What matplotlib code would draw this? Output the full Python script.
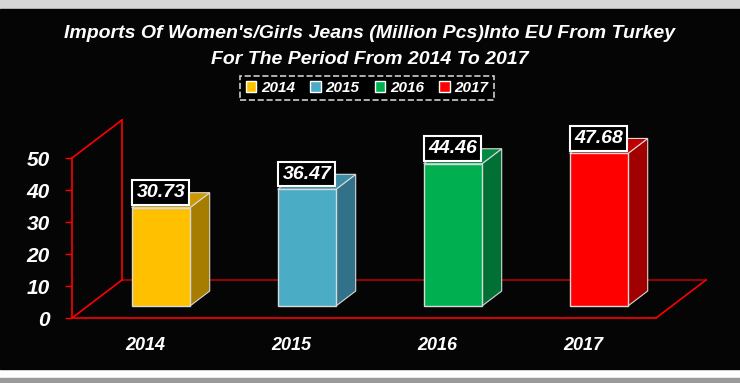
import matplotlib.pyplot as plt
from matplotlib.patches import Polygon, Rectangle, Patch

# data
years = ['2014', '2015', '2016', '2017']
imports = [30.73, 36.47, 44.46, 47.68]
front_colors = ['#FFC000', '#4BACC6', '#00B050', '#FF0000']
side_colors = ['#A67D00', '#31718A', '#007034', '#A00000']
top_colors = ['#CC9A00', '#3C8CA3', '#008A40', '#C00000']
yticks = [0, 10, 20, 30, 40, 50]

W, H = 740, 383
fig = plt.figure(figsize=(W / 100, H / 100), dpi=100, facecolor='white')

# frame: grey strip top, black panel, grey bottom
fig.patches.append(Rectangle((0, 1 - 8 / H), 1, 8 / H, transform=fig.transFigure,
                             color='#D6D6D6', zorder=-10))
fig.patches.append(Rectangle((0, 14 / H), 1, 360 / H, transform=fig.transFigure,
                             color='#050505', zorder=-10))
fig.patches.append(Rectangle((0, 0), 1, 5 / H, transform=fig.transFigure,
                             color='#9A9A9A', zorder=-10))

font = ['Liberation Sans Narrow', 'Liberation Sans', 'DejaVu Sans']
tkw = dict(color='white', fontweight='bold', fontstyle='italic', family=font)

# axes placed in pixels: value 0 at y=318 px, x slots 72..656 px
x0_px, y0_px = 72, 318
px_per_cat, px_per_val = 146, 3.2
ax_l, ax_r, ax_b, ax_t = 20, 730, 30, 300   # px from left / bottom
ax = fig.add_axes([ax_l / W, ax_b / H, (ax_r - ax_l) / W, (ax_t - ax_b) / H])
ax.set_facecolor('none')
ax.set_xlim((ax_l - x0_px) / px_per_cat, (ax_r - x0_px) / px_per_cat)
ax.set_ylim((ax_b - (H - y0_px)) / px_per_val, (ax_t - (H - y0_px)) / px_per_val)

# depth of the 3D box in data units
DX, DY = 50 / px_per_cat, 38 / px_per_val
n = len(years)
ymax = 50
red = '#FF0000'
dark_red = '#B00000'

# floor and wall
ax.plot([DX, n + DX], [DY, DY], color=dark_red, lw=1.2, zorder=1)
ax.plot([0, DX], [0, DY], color=red, lw=1.2, zorder=1)
ax.plot([n, n + DX], [0, DY], color=red, lw=1.2, zorder=1)
ax.plot([DX, DX], [DY, ymax + DY], color=red, lw=1.2, zorder=1)
ax.plot([0, DX], [ymax, ymax + DY], color=red, lw=1.2, zorder=1)

# bars
bw = 0.4
f0, f1 = 0.316, 0.71
for i, (v, fc, sc, tc) in enumerate(zip(imports, front_colors, side_colors, top_colors)):
    xl = i + 0.5 - bw / 2 + f0 * DX
    xr = xl + bw
    yb = f0 * DY
    ddx, ddy = (f1 - f0) * DX, (f1 - f0) * DY
    ec = '#D9D9D9'
    side = Polygon([(xr, yb), (xr + ddx, yb + ddy), (xr + ddx, yb + ddy + v), (xr, yb + v)],
                   closed=True, fc=sc, ec=ec, lw=0.8, zorder=3)
    top = Polygon([(xl, yb + v), (xr, yb + v), (xr + ddx, yb + ddy + v), (xl + ddx, yb + ddy + v)],
                  closed=True, fc=tc, ec=ec, lw=0.8, zorder=3)
    front = Rectangle((xl, yb), bw, v, fc=fc, ec=ec, lw=1.0, zorder=4)
    for p in (side, top, front):
        ax.add_patch(p)
    ax.annotate(f'{v:.2f}', xy=(xl + bw / 2, yb + v), xytext=(0, 11),
                textcoords='offset points', ha='center', va='center', fontsize=14,
                zorder=6, bbox=dict(boxstyle='square,pad=0.2', fc='black', ec='white', lw=1.5),
                **tkw)

# axes spines as front floor / wall
for s in ['top', 'right']:
    ax.spines[s].set_visible(False)
ax.spines['left'].set_position(('data', 0))
ax.spines['left'].set_bounds(0, ymax)
ax.spines['left'].set_color(red)
ax.spines['bottom'].set_position(('data', 0))
ax.spines['bottom'].set_bounds(0, n)
ax.spines['bottom'].set_color(red)
ax.spines['left'].set_linewidth(1.2)
ax.spines['bottom'].set_linewidth(1.2)

ax.set_yticks(yticks)
ax.set_yticklabels([str(t) for t in yticks])
ax.tick_params(axis='y', colors=red, length=5, width=1, pad=11)
ax.set_xticks([i + 0.5 for i in range(n)])
ax.set_xticklabels(years)
ax.tick_params(axis='x', length=0, pad=14)
for lab in ax.get_yticklabels() + ax.get_xticklabels():
    lab.set_color('white')
    lab.set_fontweight('bold')
    lab.set_fontstyle('italic')
    lab.set_family(font)
for lab in ax.get_yticklabels():
    lab.set_fontsize(15)
for lab in ax.get_xticklabels():
    lab.set_fontsize(13)

# title
fig.text(0.5, 1 - 33 / H, "Imports Of Women's/Girls Jeans (Million Pcs)Into EU From Turkey",
         ha='center', va='center', fontsize=14, **tkw)
fig.text(0.5, 1 - 60 / H, "For The Period From 2014 To 2017",
         ha='center', va='center', fontsize=14, **tkw)

# legend
handles = [Patch(fc=c, ec='white', lw=1) for c in front_colors]
leg = fig.legend(handles, years, loc='center', bbox_to_anchor=(367 / W, 1 - 88 / H),
                 ncol=4, frameon=True, handlelength=0.7, handleheight=0.7,
                 handletextpad=0.3, columnspacing=1.0, borderpad=0.35,
                 prop=dict(weight='bold', style='italic', family=font, size=11))
frame = leg.get_frame()
frame.set_facecolor('black')
frame.set_edgecolor('white')
frame.set_linestyle('--')
frame.set_linewidth(1.2)
frame.set_boxstyle('square', pad=0)
for t in leg.get_texts():
    t.set_color('white')

fig.savefig('out.png', dpi=100, facecolor=fig.get_facecolor())
